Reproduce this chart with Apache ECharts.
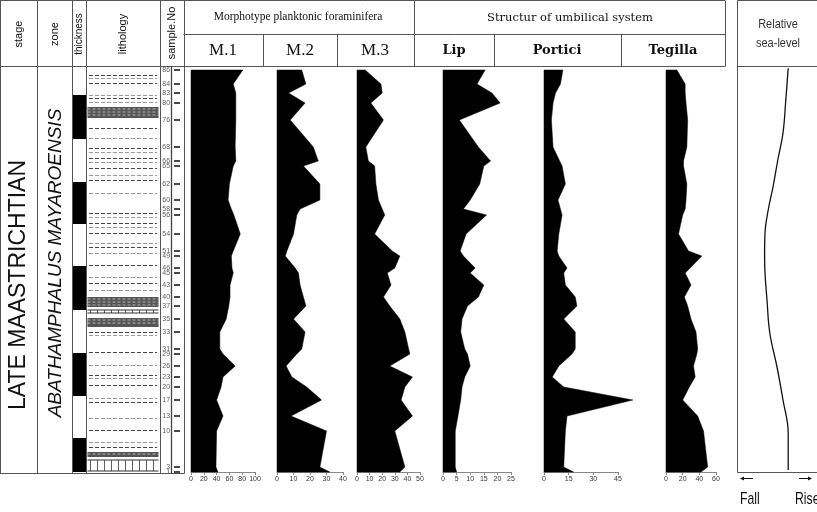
<!DOCTYPE html>
<html><head><meta charset="utf-8">
<script src="https://cdn.jsdelivr.net/npm/echarts@6/dist/echarts.min.js"></script>
<style>html,body{margin:0;padding:0;background:#fff}#c{width:817px;height:512px}</style>
</head><body><div id="c"></div>
<script>
// ---------- data ----------
const sampleNo = ['86','84','83','80','76','68','66','65','62','60','58','56','54','51','49','46','45','43','40','37','35','33','31','29','26','23','20','17','13','10','3','1'];
// stratigraphic height (m) of each sample
const sampleHeight = [40.2,38.8,37.9,36.9,35.2,32.5,31.1,30.6,28.8,27.2,26.3,25.7,23.8,22.1,21.6,20.4,19.9,18.7,17.5,16.6,15.3,14.0,12.3,11.8,10.6,9.5,8.5,7.2,5.6,4.1,0.5,0.0];
const m1 = [81,66,70,70,70,69,70,66,60,58,63,67,77,66,63,64,66,61,61,59,55,45,45,50,69,50,47,40,50,40,39,42];
const m2 = [15,17.5,7,17,8,22,25,16,26,26,14,12,10,6,5,11,13,14,16,17.5,10,17,15,12,5.5,9,18,27,8.5,30,26,32];
const m3 = [6.5,19,20,11,21,7,9,14,15,17,20,22,14,28,34,30,24,27,21,26,34,38,41,42,26,44,38,35,44,30,38,34];
const lip = [15.5,12.5,18,21,6,13,17.5,15,13.5,10,7.5,16,8.5,6.3,7.5,11.8,10,15,13,9,7,6.5,8,9,10,8,7,6.5,5.5,4.5,4.5,5];
const portici = [11.5,10,7,5.5,4.5,5.5,9.5,11,13,8.5,10,11,9,8,9,14,12,13,19,20,12,19,19,17,9,5,12,54,14,13,12,18];
const tegilla = [13,23,23,24,26,25,21,21,25,24,23,20,15,27,43,29,23,30,22,26,30,36,38,37,33,35,28,20,38,45,50,42];
// thickness scale (black blocks, from-to height)
const thicknessBlocks = [[37.7,33.3],[29.0,24.8],[20.6,16.2],[11.9,7.6],[3.4,0]];
// lithology: shale dash rows and dense beds
const shaleRows = [39.7,39.4,38.9,37.7,37.4,37.0,34.4,33.4,32.4,32.0,31.4,31.0,30.4,29.7,29.2,27.9,25.9,25.5,24.9,24.5,23.9,22.9,22.5,21.9,20.7,19.5,18.9,18.2,14.0,13.7,12.0,10.7,9.7,9.4,8.7,7.4,7.0,5.4,4.2,3.0,2.5];
const denseBeds = [[36.5,35.4],[17.5,16.5],[15.4,14.5],[2.0,1.5]];
const limestoneBeds = [[16.2,15.9],[1.2,0.1]];
// relative sea-level curve (0 = fall side, 10 = rise side)
const seaLevelX = [6.4,6.1,5.75,5.1,4.5,3.9,3.5,3.45,3.5,3.75,4.1,5.0,5.75,6.4,6.4];
const seaLevelH = [40.4,37.2,33.9,31.2,28.5,26.2,23.9,21.9,19.9,17.2,13.9,10.5,7.2,3.9,0.2];
// panel axes
const panelNames = ['M.1','M.2','M.3','Lip','Portici','Tegilla'];
const panelMax = [100,40,50,25,45,60];
const panelStep = [20,10,10,5,15,20];
const panelData = [m1,m2,m3,lip,portici,tegilla];

// ---------- layout ----------
const TOP = 69, H = 403, HMAX = 40.3;
const panelLeft = [191,277,357,443,544,666];
const panelWidth = [64,66,63,68,74,50];

const grids = [], xAxes = [], yAxes = [], series = [];
function addGrid(left, width, xmin, xmax, step, showAxis){
  grids.push({left:left, top:TOP, width:width, height:H, containLabel:false, outerBoundsMode:'none'});
  const idx = grids.length-1;
  xAxes.push({gridIndex:idx, type:'value', min:xmin, max:xmax, interval:step, show:showAxis,
    axisLine:{show:true, lineStyle:{color:'#888', width:1}},
    axisTick:{show:true, length:3, lineStyle:{color:'#888'}},
    axisLabel:{show:true, fontSize:7, color:'#333', margin:4, fontFamily:'Liberation Sans'},
    splitLine:{show:false}});
  yAxes.push({gridIndex:idx, type:'value', min:0, max:HMAX, show:false, splitLine:{show:false}});
  return idx;
}
function areaItem(vals){
  return function(params, api){
    if (params.dataIndex !== 0) return null;
    const n = sampleHeight.length;
    const pts = [api.coord([0, sampleHeight[0]])];
    for (let i=0;i<n;i++) pts.push(api.coord([vals[i], sampleHeight[i]]));
    pts.push(api.coord([0, sampleHeight[n-1]]));
    return {type:'polygon', shape:{points:pts}, style:{fill:'#000', stroke:'#000', lineWidth:0.5}};
  };
}
panelNames.forEach((nm,k)=>{
  const gi = addGrid(panelLeft[k], panelWidth[k], 0, panelMax[k], panelStep[k], true);
  series.push({type:'custom', name:nm, xAxisIndex:gi, yAxisIndex:gi, clip:false,
    data: panelData[k].map((v,i)=>[v, sampleHeight[i]]), renderItem: areaItem(panelData[k])});
});
// thickness column
const gT = addGrid(72, 14, 0, 1, 1, false);
series.push({type:'custom', xAxisIndex:gT, yAxisIndex:gT, data:thicknessBlocks,
  renderItem:(p, api)=>{
    const a = api.coord([0, api.value(0)]), b = api.coord([1, api.value(1)]);
    return {type:'rect', shape:{x:a[0], y:a[1], width:b[0]-a[0], height:b[1]-a[1]}, style:{fill:'#000'}};
  }});
// lithology column
const gL = addGrid(86, 74, 0, 1, 1, false);
series.push({type:'custom', xAxisIndex:gL, yAxisIndex:gL, data:shaleRows.map(h=>[h]),
  renderItem:(p, api)=>{
    const a = api.coord([0.04, api.value(0)]), b = api.coord([0.96, api.value(0)]);
    const dark = p.dataIndex % 2 === 0;
    return {type:'line', shape:{x1:a[0], y1:Math.round(a[1])+0.5, x2:b[0], y2:Math.round(a[1])+0.5},
      style:{stroke: dark ? '#444' : '#999', lineWidth:1, lineDash:[4,2]}};
  }});
series.push({type:'custom', xAxisIndex:gL, yAxisIndex:gL, data:denseBeds,
  renderItem:(p, api)=>{
    const a = api.coord([0.02, api.value(0)]), b = api.coord([0.98, api.value(1)]);
    const hgt = b[1]-a[1];
    const kids = [{type:'rect', shape:{x:a[0], y:a[1], width:b[0]-a[0], height:hgt}, style:{fill:'#555'}}];
    for (let yy=a[1]+2; yy<b[1]-1; yy+=3){
      kids.push({type:'line', shape:{x1:a[0], y1:yy, x2:b[0], y2:yy}, style:{stroke:'#ccc', lineWidth:0.8, lineDash:[3,2]}});
    }
    return {type:'group', children:kids};
  }});
series.push({type:'custom', xAxisIndex:gL, yAxisIndex:gL, data:limestoneBeds,
  renderItem:(p, api)=>{
    const a = api.coord([0.02, api.value(0)]), b = api.coord([0.98, api.value(1)]);
    const kids = [{type:'line', shape:{x1:a[0], y1:a[1], x2:b[0], y2:a[1]}, style:{stroke:'#333', lineWidth:1}},
                  {type:'line', shape:{x1:a[0], y1:b[1], x2:b[0], y2:b[1]}, style:{stroke:'#333', lineWidth:1}}];
    for (let xx=a[0]+3; xx<b[0]; xx+=7){
      kids.push({type:'line', shape:{x1:xx, y1:a[1], x2:xx, y2:b[1]}, style:{stroke:'#333', lineWidth:0.8}});
    }
    return {type:'group', children:kids};
  }});
// sample numbers
const gS = addGrid(160, 23, 0, 1, 1, false);
series.push({type:'scatter', xAxisIndex:gS, yAxisIndex:gS, symbol:'rect', symbolSize:[6,1.8],
  itemStyle:{color:'#000'}, data: sampleHeight.map(h=>[0.74, h]),
  label:{show:true, position:'left', distance:4, fontSize:7, color:'#333', fontFamily:'Liberation Sans',
    formatter:(p)=>sampleNo[p.dataIndex]}});
// sea-level
const gSea = addGrid(737, 80, 0, 10, 5, false);
series.push({type:'line', xAxisIndex:gSea, yAxisIndex:gSea, smooth:0.4, symbol:'none',
  lineStyle:{color:'#111', width:1.3}, data: seaLevelX.map((x,i)=>[x, seaLevelH[i]])});

// ---------- table frame & headers ----------
const LC = '#555';
function L(x1,y1,x2,y2,c,w){return {type:'line', shape:{x1,y1,x2,y2}, style:{stroke:c||LC, lineWidth:w||1}, silent:true, z:10};}
function T(x,y,text,font,rot,opts){
  return Object.assign({type:'text', x:x, y:y, rotation:rot||0, silent:true, z:11,
    style:Object.assign({x:0, y:0, text:text, align:'center', verticalAlign:'middle', fill:'#111'}, font)}, opts||{});
}
const g = [];
g.push(L(0,0.5,725,0.5), L(0,66.5,725,66.5), L(183.5,34.5,725,34.5));
[263.5,337.5,494.5,621.5].forEach(x=>g.push(L(x,34.5,x,66.5)));
g.push(L(414.5,0.5,414.5,66.5), L(725.5,0.5,725.5,66.5));
[0.5,37.5,72.5,86.5,160.5,184.5].forEach(x=>g.push(L(x,0.5,x,473.5)));
g.push(L(171.5,66.5,171.5,473.5,'#444',1.3));
g.push(L(0,473.5,184.5,473.5));
g.push(L(737.5,0.5,737.5,472.5), L(737.5,0.5,817,0.5), L(737.5,66.5,817,66.5), L(737.5,472.5,817,472.5));
const sans = 'Liberation Sans';
const RU = Math.PI/2;
g.push(T(19,34,'stage',{fontSize:11, fontFamily:sans},RU));
g.push(T(55,34,'zone',{fontSize:11, fontFamily:sans},RU));
g.push(T(79,34,'thickness',{fontSize:10, fontFamily:sans},RU));
g.push(T(123,34,'lithology',{fontSize:11, fontFamily:sans},RU));
g.push(T(172,33,'sample.No',{fontSize:11, fontFamily:sans},RU));
g.push(T(19,285,'LATE MAASTRICHTIAN',{fontSize:23, fontFamily:sans},RU));
g.push(T(56,263,'ABATHAMPHALUS MAYAROENSIS',{fontSize:19, fontFamily:sans, fontStyle:'italic'},RU));
g.push(T(298,17,'Morphotype planktonic foraminifera',{fontSize:11.5, fontFamily:'Liberation Serif'}));
g.push(T(570,18,'Structur of umbilical system',{fontSize:11.5, fontFamily:'DejaVu Serif'}));
const hdrX = [223,300,375,454,557,673];
panelNames.forEach((nm,k)=>{
  if (k<3) g.push(T(hdrX[k],51,nm,{fontSize:17, fontFamily:'Liberation Serif'}));
  else g.push(T(hdrX[k],51,nm,{fontSize:13, fontFamily:'DejaVu Serif', fontWeight:'bold'}));
});
g.push(T(778,25,'Relative',{fontSize:12.5, fontFamily:sans, fill:'#333'},0,{scaleX:0.88}));
g.push(T(778,44,'sea-level',{fontSize:12.5, fontFamily:sans, fill:'#333'},0,{scaleX:0.88}));
g.push(L(742,478.5,753,478.5,'#111',1), {type:'polygon', shape:{points:[[740,478.5],[744,476.5],[744,480.5]]}, style:{fill:'#111'}, z:11});
g.push(L(799,478.5,810,478.5,'#111',1), {type:'polygon', shape:{points:[[812,478.5],[808,476.5],[808,480.5]]}, style:{fill:'#111'}, z:11});
g.push(T(740,499,'Fall',{fontSize:17, fontFamily:sans, align:'left'},0,{scaleX:0.72}));
g.push(T(795,499,'Rise',{fontSize:17, fontFamily:sans, align:'left'},0,{scaleX:0.72}));

const chart = echarts.init(document.getElementById('c'), null, {renderer:'canvas'});
chart.setOption({animation:false, backgroundColor:'#fff', grid:grids, xAxis:xAxes, yAxis:yAxes, series:series, graphic:g});
</script>
</body></html>
